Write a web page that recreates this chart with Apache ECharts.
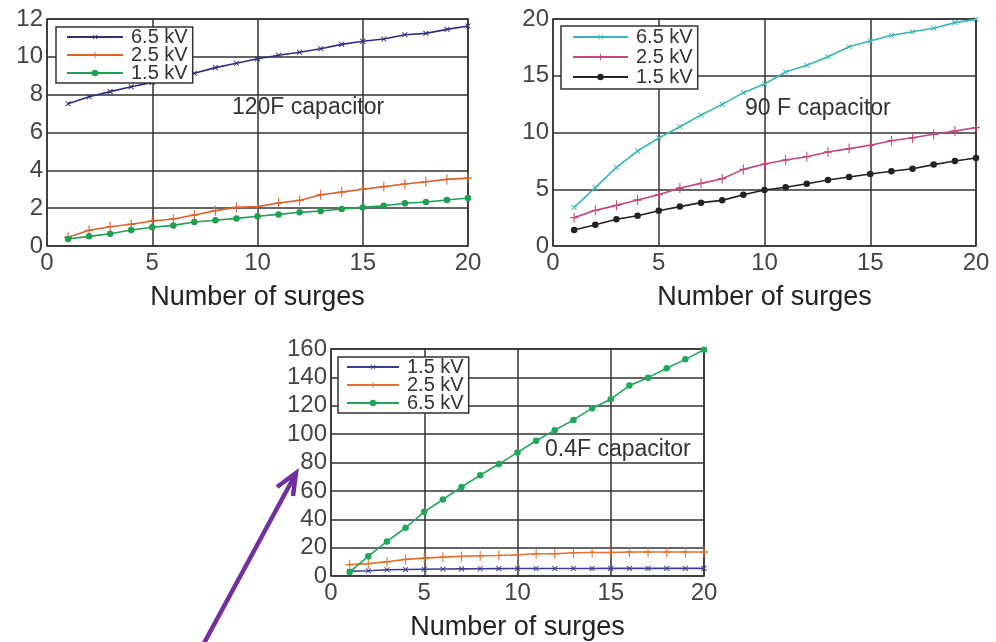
<!DOCTYPE html>
<html>
<head>
<meta charset="utf-8">
<script src="https://cdn.jsdelivr.net/npm/echarts@6/dist/echarts.min.js"></script>
<style>html,body{margin:0;padding:0;background:#fff}#c{width:996px;height:642px}</style>
</head>
<body>
<div id="c"></div>
<script>
// ---- data ----
const surges = [1,2,3,4,5,6,7,8,9,10,11,12,13,14,15,16,17,18,19,20];

// 120F capacitor
const c120_65 = [7.52,7.89,8.16,8.42,8.65,8.90,9.13,9.43,9.66,9.90,10.08,10.24,10.43,10.66,10.82,10.94,11.17,11.24,11.45,11.63];
const c120_25 = [0.46,0.83,1.02,1.15,1.32,1.43,1.64,1.87,2.04,2.08,2.27,2.41,2.71,2.85,3.00,3.14,3.28,3.40,3.52,3.59];
const c120_15 = [0.37,0.51,0.65,0.85,0.99,1.09,1.27,1.36,1.46,1.57,1.67,1.78,1.85,1.96,2.04,2.13,2.26,2.33,2.43,2.54];

// 90 F capacitor
const c90_65 = [3.40,5.14,6.93,8.37,9.52,10.51,11.54,12.48,13.51,14.27,15.33,15.92,16.68,17.56,18.06,18.56,18.88,19.18,19.68,19.97];
const c90_25 = [2.50,3.14,3.58,4.05,4.52,5.11,5.52,5.93,6.75,7.22,7.58,7.87,8.28,8.58,8.87,9.28,9.54,9.84,10.13,10.43];
const c90_15 = [1.41,1.88,2.35,2.67,3.11,3.47,3.82,4.02,4.52,4.93,5.17,5.49,5.81,6.08,6.34,6.58,6.81,7.17,7.49,7.75];

// 0.4F capacitor
const c04_15 = [3.3,3.7,4.4,4.6,4.8,4.9,5.0,5.1,5.2,5.3,5.3,5.3,5.3,5.3,5.4,5.4,5.4,5.4,5.4,5.4];
const c04_25 = [8.0,8.7,10.0,11.7,12.6,13.3,13.8,14.3,14.5,15.0,15.7,15.7,16.4,16.6,16.6,16.9,16.9,16.9,16.9,16.9];
const c04_65 = [2.8,14.0,24.4,34.0,45.2,53.9,62.8,71.0,78.9,87.1,95.3,102.8,110.0,118.3,124.6,134.2,139.8,146.4,152.7,159.5];

const xTicks = [0,5,10,15,20];
const yTicks120 = [0,2,4,6,8,10,12];
const yTicks90 = [0,5,10,15,20];
const yTicks04 = [0,20,40,60,80,100,120,140,160];

const axisName = 'Number of surges';
const notes = ['120F capacitor','90 F capacitor','0.4F capacitor'];

// ---- styles ----
const FONT = "'Liberation Sans', Arial, sans-serif";
const PLUS = 'path://M-0.8,-6H0.8V-0.8H6V0.8H0.8V6H-0.8V0.8H-6V-0.8H-0.8Z';

function pairs(vals){ return surges.map((n,i)=>[n, vals[i]]); }

function mk(name, idx, vals, color, sym){
  const s = {
    name: name, type: 'line', xAxisIndex: idx, yAxisIndex: idx,
    data: pairs(vals),
    lineStyle: {color: color, width: 1.6},
    itemStyle: {color: color},
    animation: false
  };
  if (sym === 'x') { s.symbol = PLUS; s.symbolSize = 7; s.symbolRotate = 45; }
  else if (sym === '+') { s.symbol = PLUS; s.symbolSize = [8,10]; }
  else { s.symbol = 'circle'; s.symbolSize = 6.5; }
  return s;
}

const grids = [
  {left:47, top:19, width:421, height:227},
  {left:553, top:19, width:423, height:227},
  {left:331, top:349, width:373, height:228}
].map(g => Object.assign(g, {show:true, borderColor:'#333', borderWidth:1.5, backgroundColor:'#fff'}));

function xAx(i){
  return {
    type:'value', gridIndex:i, min:xTicks[0], max:xTicks[xTicks.length-1], interval:xTicks[1]-xTicks[0],
    name: axisName, nameLocation:'middle', nameGap:38,
    nameTextStyle:{fontFamily:FONT, fontSize:27, color:'#222'},
    axisLine:{show:false}, axisTick:{show:false},
    axisLabel:{fontFamily:FONT, fontSize:24, color:'#444', margin:5},
    splitLine:{show:true, lineStyle:{color:'#333', width:1.5}}
  };
}
function yAx(i, ticks){
  return {
    type:'value', gridIndex:i, min:ticks[0], max:ticks[ticks.length-1], interval:ticks[1]-ticks[0],
    axisLine:{show:false}, axisTick:{show:false},
    axisLabel:{fontFamily:FONT, fontSize:24, color:'#444', margin:4},
    splitLine:{show:true, lineStyle:{color:'#333', width:1.5}}
  };
}

function leg(names, left, top, itemW, pad, gap){
  return {
    data: names, orient:'vertical', left:left, top:top,
    formatter: n => n.split('|')[1],
    itemWidth:itemW, itemHeight:8, itemGap:gap,
    padding: pad,
    backgroundColor:'#fff', borderColor:'#333', borderWidth:1.5, borderRadius:0,
    textStyle:{fontFamily:FONT, fontSize:20, color:'#333', lineHeight:18, padding:[0,0,0,3]},
    selectedMode:false
  };
}

const series = [
  mk('A|6.5 kV', 0, c120_65, '#2f2f80', 'x'),
  mk('A|2.5 kV', 0, c120_25, '#e0602c', '+'),
  mk('A|1.5 kV', 0, c120_15, '#1f9f52', 'o'),
  mk('B|6.5 kV', 1, c90_65, '#34b8b8', 'x'),
  mk('B|2.5 kV', 1, c90_25, '#c8457e', '+'),
  mk('B|1.5 kV', 1, c90_15, '#222222', 'o'),
  mk('C|1.5 kV', 2, c04_15, '#3c3c92', 'x'),
  mk('C|2.5 kV', 2, c04_25, '#e8702e', '+'),
  mk('C|6.5 kV', 2, c04_65, '#1fa85a', 'o')
];

const chart = echarts.init(document.getElementById('c'), null, {renderer:'canvas'});
chart.setOption({
  backgroundColor:'#fff',
  animation:false,
  grid: grids,
  xAxis: [xAx(0), xAx(1), xAx(2)],
  yAxis: [yAx(0, yTicks120), yAx(1, yTicks90), yAx(2, yTicks04)],
  legend: [
    leg(['A|6.5 kV','A|2.5 kV','A|1.5 kV'], 56, 27, 56, [0,5,0,10], -2),
    leg(['B|6.5 kV','B|2.5 kV','B|1.5 kV'], 561, 26, 55, [1,5,2,11], 0),
    leg(['C|1.5 kV','C|2.5 kV','C|6.5 kV'], 338, 357, 52, [0,5,0,8], -2)
  ],
  title: [
    {text:notes[0], left:232, top:96, padding:0, textStyle:{fontFamily:FONT, fontSize:23, fontWeight:'normal', color:'#333'}},
    {text:notes[1], left:745, top:97, padding:0, textStyle:{fontFamily:FONT, fontSize:23, fontWeight:'normal', color:'#333'}},
    {text:notes[2], left:545, top:438, padding:0, textStyle:{fontFamily:FONT, fontSize:23, fontWeight:'normal', color:'#333'}}
  ],
  series: series,
  graphic: [
    {type:'line', shape:{x1:203, y1:645, x2:294, y2:477}, style:{stroke:'#7030a0', lineWidth:4.5}, z:100},
    {type:'polyline', shape:{points:[[277,487],[296,473],[293,496]]}, style:{stroke:'#7030a0', lineWidth:4.5, fill:null, lineJoin:'miter'}, z:100}
  ]
});
</script>
</body>
</html>
